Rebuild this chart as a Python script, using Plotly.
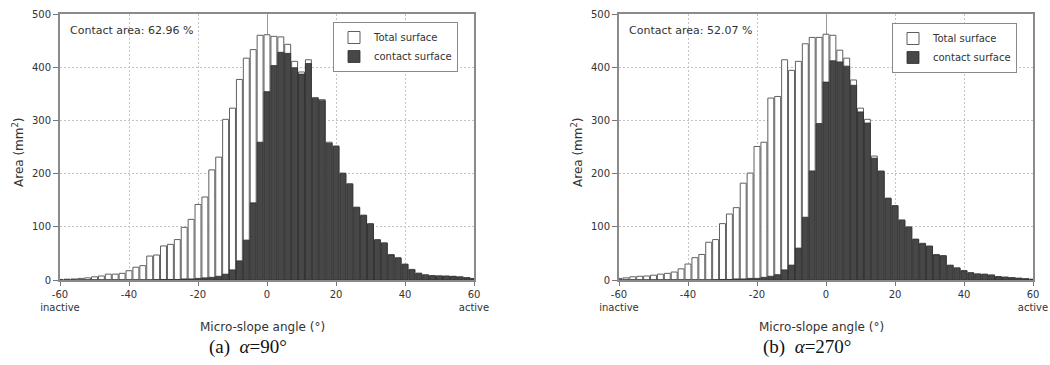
import plotly.graph_objects as go

# ---------------- data ----------------
angles = [-60, -58, -56, -54, -52, -50, -48, -46, -44, -42, -40, -38, -36, -34, -32,
          -30, -28, -26, -24, -22, -20, -18, -16, -14, -12, -10, -8, -6, -4, -2,
          0, 2, 4, 6, 8, 10, 12, 14, 16, 18, 20, 22, 24, 26, 28,
          30, 32, 34, 36, 38, 40, 42, 44, 46, 48, 50, 52, 54, 56, 58, 60]

# (a) alpha = 90 deg
total_a = [1, 1.5, 2, 3, 4, 6, 7.5, 11, 11, 12.5, 17.5, 24, 27, 45, 47,
           64, 67, 76, 99, 114, 142, 156, 207, 231, 302, 323, 377, 417, 433, 460,
           461, 458, 457, 443, 411, 391, 414, 343, 339, 259, 252, 201, 181, 137, 122,
           106, 76, 70, 48, 42, 30, 20, 13, 10, 8, 8, 7.5, 7, 6, 4.5, 3]
contact_a = [0, 0, 0, 0, 0, 0, 0, 0, 0, 0, 0, 0, 0, 0, 0.5,
             1, 1, 1, 2, 2, 3, 4, 5, 7, 11, 19, 36, 75, 145, 259,
             354, 403, 428, 426, 399, 387, 407, 341, 337, 257, 251, 200, 180, 136, 121,
             105, 75, 69, 47, 41, 29, 19, 12, 9, 8, 7, 7, 6.5, 5.5, 4, 2.5]

# (b) alpha = 270 deg
total_b = [3, 4, 6, 7, 7.5, 9, 11, 12.5, 15, 21, 30, 42, 48, 71, 76,
           106, 124, 136, 182, 201, 251, 259, 342, 345, 414, 394, 411, 444, 456, 456,
           462, 460, 432, 417, 376, 323, 302, 233, 205, 154, 140, 113, 100, 77, 69,
           64, 48, 46, 28, 23, 18, 14, 11.5, 11, 9.5, 6.5, 5.5, 4.5, 3.5, 2.5, 1.5]
contact_b = [0, 0, 0, 0, 0, 0, 0, 0, 0, 0, 0, 0, 0, 0, 0.5,
             1, 1, 2, 2, 3, 3, 5, 7, 10, 19, 28, 60, 118, 205, 294,
             372, 412, 410, 402, 366, 316, 295, 229, 204, 153, 139, 112, 99, 76, 68,
             63, 47, 45, 27, 22, 17, 13, 11, 10.5, 9, 6, 5, 4, 3, 2, 1]

contact_pct = ["62.96", "52.07"]
captions = ["(a)", "(b)"]
alphas = ["90°", "270°"]

x_tickvals = [-60, -40, -20, 0, 20, 40, 60]
x_ticktext = ["-60<br>inactive", "-40", "-20", "0", "20", "40", "60<br>active"]
y_tickvals = [0, 100, 200, 300, 400, 500]

# ---------------- figure ----------------
W, H = 1050, 365
SANS = "DejaVu Sans"
SERIF = "Liberation Serif"
TXT = "#333333"

fig = go.Figure()

panels = [
    dict(total=total_a, contact=contact_a, xa="x", ya="y", leg="legend"),
    dict(total=total_b, contact=contact_b, xa="x2", ya="y2", leg="legend2"),
]
for p in panels:
    fig.add_trace(go.Bar(
        x=angles, y=p["total"], width=1.72, name="Total surface",
        marker=dict(color="white", line=dict(color="#5f5f5f", width=1)),
        xaxis=p["xa"], yaxis=p["ya"], legend=p["leg"]))
    fig.add_trace(go.Bar(
        x=angles, y=p["contact"], width=1.72, name="contact surface",
        marker=dict(color="#474747", line=dict(color="#2e2e2e", width=0.8)),
        xaxis=p["xa"], yaxis=p["ya"], legend=p["leg"]))

# panel pixel geometry
px_left = [(60, 474), (619, 1033)]
py_top, py_bot = 14, 280
ydom = [(H - py_bot) / H, (H - py_top) / H]

def xaxis_cfg(i, anchor):
    l, r = px_left[i]
    return dict(domain=[l / W, r / W], range=[-60, 60], anchor=anchor,
                tickvals=x_tickvals, ticktext=x_ticktext,
                ticks="outside", ticklen=4, tickcolor="#777", tickwidth=1,
                showline=True, linecolor="#8a8a8a", linewidth=2, mirror=True,
                showgrid=True, gridcolor="#c4c4c4", griddash="2px,2px", gridwidth=1,
                zeroline=True, zerolinecolor="#9a9a9a", zerolinewidth=1,
                tickfont=dict(family=SANS, size=10, color=TXT),
                automargin=False, fixedrange=True)

def yaxis_cfg(anchor):
    return dict(domain=ydom, range=[0, 500], anchor=anchor,
                tickvals=y_tickvals, ticks="outside", ticklen=5, tickcolor="#777",
                showline=True, linecolor="#8a8a8a", linewidth=2, mirror=True,
                showgrid=True, gridcolor="#c4c4c4", griddash="2px,2px", gridwidth=1,
                zeroline=False,
                tickfont=dict(family=SANS, size=10, color=TXT),
                automargin=False, fixedrange=True)

leg_common = dict(xanchor="left", yanchor="top", bgcolor="white",
                  bordercolor="#8a8a8a", borderwidth=1, tracegroupgap=0,
                  itemwidth=30, font=dict(family=SANS, size=10, color=TXT))

fig.update_layout(
    width=W, height=H, margin=dict(l=0, r=0, t=0, b=0),
    paper_bgcolor="white", plot_bgcolor="white",
    barmode="overlay", showlegend=True,
    xaxis=xaxis_cfg(0, "y"), yaxis=yaxis_cfg("x"),
    xaxis2=xaxis_cfg(1, "y2"), yaxis2=yaxis_cfg("x2"),
    legend=dict(x=333 / W, y=(H - 22) / H, **leg_common),
    legend2=dict(x=892 / W, y=(H - 23) / H, **leg_common),
)

annos = []
for i in range(2):
    l, r = px_left[i]
    annos.append(dict(xref="paper", yref="paper", x=(l + 8) / W, y=(H - 30) / H,
                      xanchor="left", yanchor="middle", showarrow=False,
                      text=f"Contact area: {contact_pct[i]} %",
                      font=dict(family=SANS, size=11, color=TXT)))
    annos.append(dict(xref="paper", yref="paper", x=((l + r) / 2 - 5) / W, y=(H - 327) / H,
                      xanchor="center", yanchor="middle", showarrow=False,
                      text="Micro-slope angle (°)",
                      font=dict(family=SANS, size=12, color=TXT)))
    annos.append(dict(xref="paper", yref="paper", x=(l - 42) / W, y=(H - 152) / H,
                      xanchor="center", yanchor="middle", showarrow=False,
                      textangle=-90, text="Area (mm<sup>2</sup>)",
                      font=dict(family=SANS, size=12, color=TXT)))
    annos.append(dict(xref="paper", yref="paper", x=((l + r) / 2 - 19) / W, y=(H - 347) / H,
                      xanchor="center", yanchor="middle", showarrow=False,
                      text=f"{captions[i]}\u00a0\u00a0<i>α</i>={alphas[i]}",
                      font=dict(family=SERIF, size=19, color="#111")))
fig.update_layout(annotations=annos)

fig.write_html("out.html")
